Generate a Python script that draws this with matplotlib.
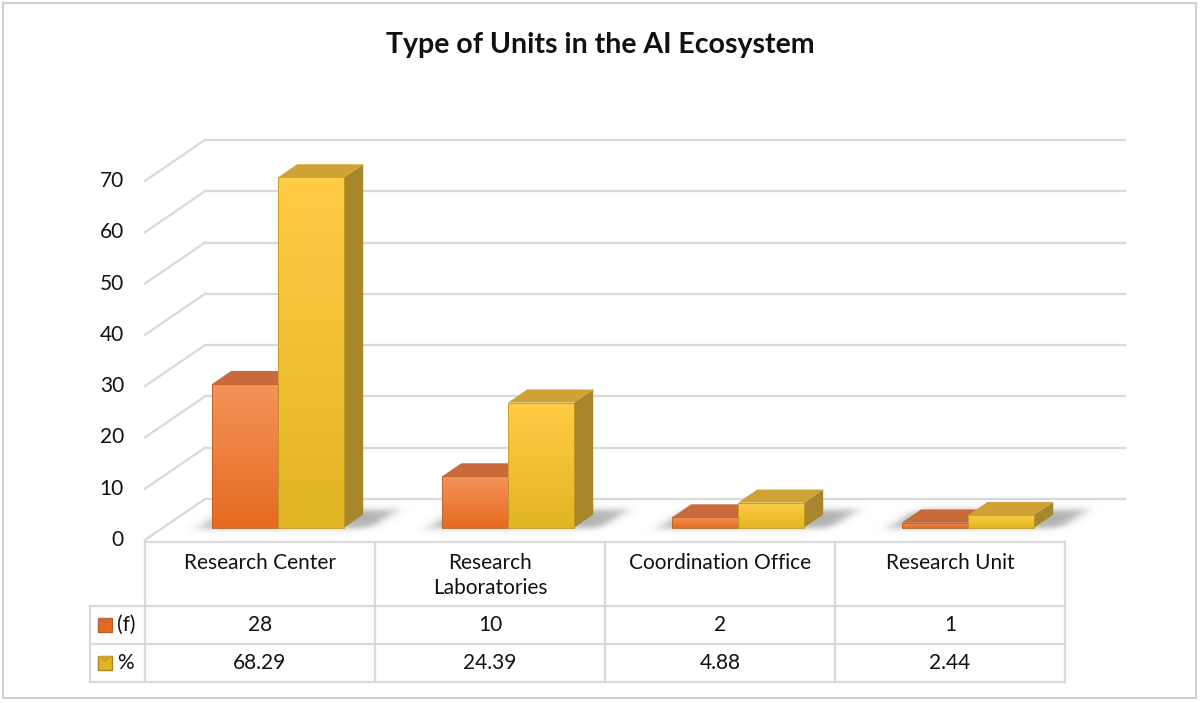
import numpy as np
import matplotlib.pyplot as plt
from matplotlib.colors import LinearSegmentedColormap
from matplotlib.patches import Polygon, Rectangle

plt.rcParams['font.family'] = ['Lato', 'DejaVu Sans']

categories = ['Research Center', 'Research\nLaboratories', 'Coordination Office', 'Research Unit']
series_names = ['(f)', '%']
freq = [28, 10, 2, 1]
pct = [68.29, 24.39, 4.88, 2.44]
table_labels = [['28', '10', '2', '1'], ['68.29', '24.39', '4.88', '2.44']]
yticks = [0, 10, 20, 30, 40, 50, 60, 70]

W, H = 1200, 703
X0, XS = 145, 230      # front-left pixel, pixels per category
Y0, YS = 540, 5.13     # pixel of value 0 on the front plane, pixels per unit
DX, DY = 60 / XS, 41 / YS   # floor depth in data units

def X(px):
    return (px - X0) / XS

def Y(py):
    return (Y0 - py) / YS

fig = plt.figure(figsize=(12, 7.03), dpi=100)
ax = fig.add_axes([0, 0, 1, 1])
ax.set_xlim(X(0), X(W))
ax.set_ylim(Y(H), Y(0))
ax.axis('off')

grid_c = '#d9d9d9'
txt_c = '#111111'
n = len(categories)

# outer border
ax.add_patch(Rectangle((X(3), Y(698)), X(1196) - X(3), Y(3) - Y(698),
                       fill=False, ec='#d0d0d0', lw=1.5))

# gridlines: back wall and left side wall
for v in yticks:
    ax.plot([DX, n + DX], [v + DY, v + DY], color=grid_c, lw=1.6, zorder=1)
    ax.plot([0, DX], [v, v + DY], color=grid_c, lw=1.6, zorder=1)
    ax.text(X(124), v, str(v), ha='right', va='center', fontsize=15, color=txt_c)

# bars
w = 0.287
d0, d1 = 0.30, 0.62
front_cols = [('#f4935a', '#e66b1f'), ('#ffcc45', '#e2b524')]
top_cols = ['#c96a3b', '#cfa236']
side_cols = ['#b45f33', '#a8872c']
edge_cols = ['#b8602a', '#c29a20']

def gradient_face(x0, x1, y0, y1, c_top, c_bot, ec):
    poly = Polygon([(x0, y0), (x1, y0), (x1, y1), (x0, y1)], closed=True,
                   ec=ec, lw=0.6, fc='none', zorder=4)
    ax.add_patch(poly)
    cmap = LinearSegmentedColormap.from_list('g', [c_bot, c_top])
    grad = np.linspace(0, 1, 64).reshape(-1, 1)
    im = ax.imshow(grad, cmap=cmap, extent=[x0, x1, y0, y1], origin='lower',
                   aspect='auto', zorder=3)
    im.set_clip_path(poly)

def smooth_box(z, lo, hi, s):
    return 1 / (1 + np.exp(-(z - lo) / s)) * 1 / (1 + np.exp((z - hi) / s))

def floor_shadow(xa, xb, ta, tb):
    ex0, ex1 = xa - 0.1, xb + 0.3
    ey0, ey1 = -1.0, DY + 1.0
    gx, gy = np.meshgrid(np.linspace(ex0, ex1, 240), np.linspace(ey0, ey1, 80))
    t = gy / DY
    xf = gx - t * DX
    a = smooth_box(xf, xa, xb, 0.018) * smooth_box(t, ta, tb, 0.045)
    rgba = np.zeros(a.shape + (4,))
    rgba[..., :3] = 0.45
    rgba[..., 3] = 0.55 * a
    ax.imshow(rgba, extent=[ex0, ex1, ey0, ey1], origin='lower', aspect='auto',
              zorder=2, interpolation='bilinear')

for i in range(n):
    vals = [freq[i], pct[i]]
    floor_shadow(i + 0.5 - w - 0.05, i + 0.5 + w + 0.12, d0 - 0.02, d1 + 0.1)
    for s in range(2):
        v = vals[s]
        xl = i + 0.5 - w + s * w
        xr = xl + w
        fx0, fx1 = xl + d0 * DX, xr + d0 * DX
        bxl, bxr = xl + d1 * DX, xr + d1 * DX
        yb_f, yb_b = d0 * DY, d1 * DY
        yt_f, yt_b = v + d0 * DY, v + d1 * DY
        # side face
        ax.add_patch(Polygon([(fx1, yb_f), (fx1, yt_f), (bxr, yt_b), (bxr, yb_b)],
                             closed=True, fc=side_cols[s], ec='none', zorder=3))
        # top face
        ax.add_patch(Polygon([(fx0, yt_f), (fx1, yt_f), (bxr, yt_b), (bxl, yt_b)],
                             closed=True, fc=top_cols[s], ec='none', zorder=3))
        gradient_face(fx0, fx1, yb_f, yt_f, front_cols[s][0], front_cols[s][1], edge_cols[s])

ax.set_xlim(X(0), X(W))
ax.set_ylim(Y(H), Y(0))

# data table
t_top, r1, r2, r3 = 542, 606, 644, 682
lkw = dict(color=grid_c, lw=1.6, zorder=1)
ax.plot([X(X0), X(X0 + n * XS)], [Y(t_top)] * 2, **lkw)
for yy in (r1, r2, r3):
    ax.plot([X(90), X(X0 + n * XS)], [Y(yy)] * 2, **lkw)
ax.plot([X(90), X(90)], [Y(r1), Y(r3)], **lkw)
for i in range(n + 1):
    ax.plot([i, i], [Y(t_top), Y(r3)], **lkw)

for i, c in enumerate(categories):
    ax.text(i + 0.5, Y(553), c, ha='center', va='top', fontsize=15,
            color=txt_c, linespacing=1.32)
    for r, yy in enumerate((625, 663)):
        ax.text(i + 0.5, Y(yy), table_labels[r][i], ha='center', va='center',
                fontsize=15, color=txt_c)

# legend keys inside the table
for r, yy in enumerate((625, 663)):
    kx0, kx1 = X(98), X(112)
    ky0, ky1 = Y(yy + 7), Y(yy - 7)
    ax.add_patch(Rectangle((kx0, ky0), kx1 - kx0, ky1 - ky0,
                           fc=front_cols[r][1], ec=side_cols[r], lw=1.0, zorder=3))
    ax.add_patch(Polygon([(kx0, ky1), (kx1, ky1), ((kx0 + kx1) / 2, (ky0 + ky1) / 2)],
                         closed=True, fc=top_cols[r], ec='none', zorder=4))
    ax.text(X(117), Y(yy), series_names[r], ha='left', va='center', fontsize=15, color=txt_c)

ax.text(X(600), Y(45), 'Type of Units in the AI Ecosystem', ha='center', va='center',
        fontsize=20.5, fontweight='bold', color=txt_c)

fig.savefig('out.png', dpi=100)
